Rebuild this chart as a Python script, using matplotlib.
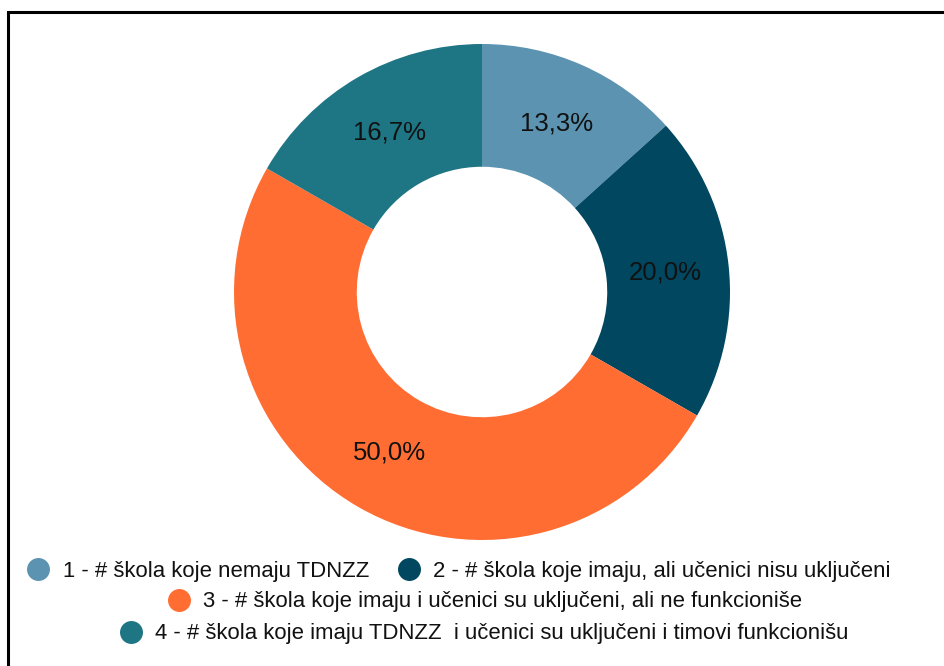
import matplotlib.pyplot as plt
from matplotlib.lines import Line2D
from matplotlib.patches import Rectangle

plt.rcParams["font.family"] = ["Liberation Sans", "DejaVu Sans"]

# ── Data ─────────────────────────────────────────────
labels = [
    "1 - # škola koje nemaju TDNZZ",
    "2 - # škola koje imaju, ali učenici nisu uključeni",
    "3 - # škola koje imaju i učenici su uključeni, ali ne funkcioniše",
    "4 - # škola koje imaju TDNZZ  i učenici su uključeni i timovi funkcionišu",
]
shares = [13.3, 20.0, 50.0, 16.7]
colors = ["#5b93b1", "#00475f", "#ff6d33", "#1e7583"]

W, H = 945, 666
fig = plt.figure(figsize=(W / 100, H / 100), dpi=100)

# outer frame (right / bottom edges run off the image)
fig.patches.append(Rectangle((8 / W, -0.05), 1.1, 1 - 12 / H + 0.05,
                             transform=fig.transFigure, fill=False,
                             edgecolor="black", linewidth=2.2))

# ── Donut ────────────────────────────────────────────
cx, cy, r = 482, 292, 248
ax = fig.add_axes([(cx - r) / W, 1 - (cy + r) / H, 2 * r / W, 2 * r / H])
wedges, _, autotexts = ax.pie(
    shares, colors=colors, startangle=90, counterclock=False,
    radius=1.0, wedgeprops=dict(width=0.495, linewidth=0),
    autopct=lambda p: f"{p:.1f}%".replace(".", ","), pctdistance=0.745,
    textprops=dict(fontsize=18.5, color="#111111"),
)
ax.set_xlim(-1, 1)
ax.set_ylim(-1, 1)
ax.set_aspect("equal")
ax.axis("off")

# ── Legend (wrapped over three rows) ─────────────────
def handle(c):
    return Line2D([], [], marker="o", linestyle="", markersize=15.5,
                  markerfacecolor=c, markeredgecolor=c)

rows = [([0, 1], 459, 571), ([2], 485, 602), ([3], 484, 634)]
for idx, x, y in rows:
    leg = fig.legend([handle(colors[i]) for i in idx], [labels[i] for i in idx],
                     loc="center", bbox_to_anchor=(x / W, 1 - y / H),
                     ncol=len(idx), frameon=False, fontsize=15.9,
                     handletextpad=0.6, columnspacing=1.3, handlelength=1.0,
                     borderpad=0, borderaxespad=0)
    for t in leg.get_texts():
        t.set_color("#111111")

fig.savefig("out.png", dpi=100)
